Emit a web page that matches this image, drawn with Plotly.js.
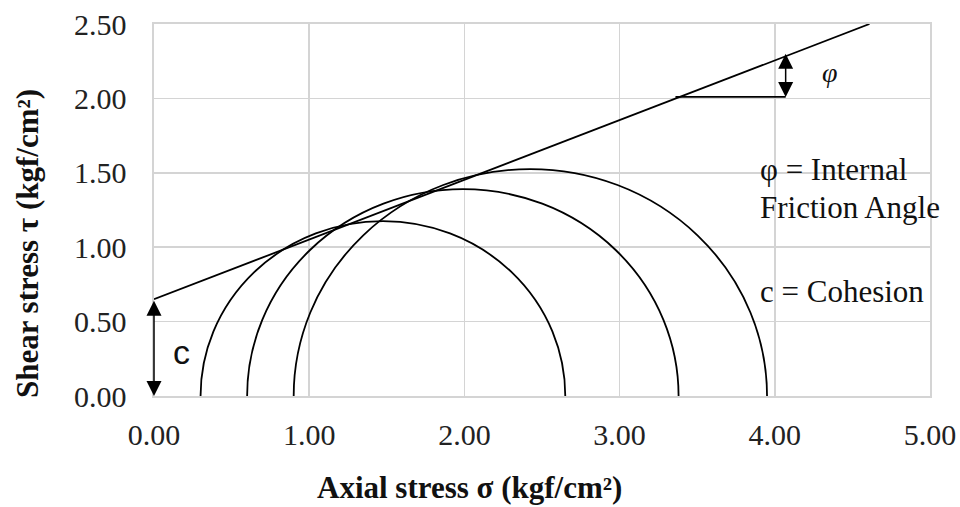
<!DOCTYPE html>
<html>
<head>
<meta charset="utf-8">
<script src="https://cdn.plot.ly/plotly-3.0.1.min.js"></script>
<style>
html,body{margin:0;padding:0;background:#fff;}
#chart{width:960px;height:507px;}
</style>
</head>
<body>
<div id="chart"></div>
<script>
// Mohr circles: minor and major principal stresses (kgf/cm2)
const sigma3 = [0.30, 0.60, 0.90];
const sigma1 = [2.65, 3.38, 3.95];
// Mohr-Coulomb failure envelope
const envelopeX = [0.00, 4.61];
const envelopeY = [0.65, 2.50];
// phi marker (horizontal reference + vertical arrow)
const phiLineX = [3.36, 4.07];
const phiLineY = [2.01, 2.01];
const phiArrowX = 4.07;
const phiArrowY = [2.01, 2.31];
// cohesion arrow
const cohesion = 0.65;
const xTicks = [0, 1, 2, 3, 4, 5];
const yTicks = [0, 0.5, 1.0, 1.5, 2.0, 2.5];

const serif = '"Liberation Serif", "Times New Roman", serif';
const black = '#000000';

const traces = [
  {x: envelopeX, y: envelopeY, mode: 'lines', line: {color: black, width: 1.8}, hoverinfo: 'skip'},
  {x: phiLineX, y: phiLineY, mode: 'lines', line: {color: black, width: 1.8}, hoverinfo: 'skip'}
];

const shapes = sigma3.map((s3, i) => {
  const r = (sigma1[i] - s3) / 2;
  return {type: 'circle', xref: 'x', yref: 'y', x0: s3, x1: sigma1[i], y0: -r, y1: r,
          line: {color: black, width: 1.8}, fillcolor: 'rgba(0,0,0,0)', layer: 'above'};
});

const annotations = [
  // cohesion double arrow
  {x: 0, y: 0, ax: 0, ay: cohesion, xref: 'x', yref: 'y', axref: 'x', ayref: 'y', text: '',
   showarrow: true, arrowside: 'end+start', arrowhead: 2, startarrowhead: 2,
   arrowsize: 2, startarrowsize: 2, arrowwidth: 1.5, arrowcolor: black},
  // phi double arrow
  {x: phiArrowX, y: phiArrowY[0], ax: phiArrowX, ay: phiArrowY[1], xref: 'x', yref: 'y', axref: 'x', ayref: 'y', text: '',
   showarrow: true, arrowside: 'end+start', arrowhead: 2, startarrowhead: 2,
   arrowsize: 2, startarrowsize: 2, arrowwidth: 1.5, arrowcolor: black},
  {x: 0.18, y: 0.296, xref: 'x', yref: 'y', text: 'c', showarrow: false,
   font: {family: '"Liberation Sans", Arial, sans-serif', size: 34, color: '#111'}},
  {x: 4.355, y: 2.177, xref: 'x', yref: 'y', text: '<i>φ</i>', showarrow: false,
   font: {family: serif, size: 28, color: '#111'}},
  {x: 3.89, y: 1.519, xref: 'x', yref: 'y', xanchor: 'left', text: 'φ = Internal', showarrow: false,
   font: {family: serif, size: 31, color: '#111'}},
  {x: 3.89, y: 1.270, xref: 'x', yref: 'y', xanchor: 'left', text: 'Friction Angle', showarrow: false,
   font: {family: serif, size: 31, color: '#111'}},
  {x: 3.89, y: 0.699, xref: 'x', yref: 'y', xanchor: 'left', text: 'c = Cohesion', showarrow: false,
   font: {family: serif, size: 31, color: '#111'}},
  // axis titles
  {x: 0.407, y: -0.247, xref: 'paper', yref: 'paper', xanchor: 'center', yanchor: 'middle',
   text: '<b>Axial stress σ (kgf/cm²)</b>', showarrow: false,
   font: {family: serif, size: 31, color: '#111'}},
  {x: -0.1637, y: 0.411, xref: 'paper', yref: 'paper', xanchor: 'center', yanchor: 'middle', textangle: -90,
   text: '<b>Shear stress τ (kgf/cm²)</b>', showarrow: false,
   font: {family: serif, size: 31, color: '#111'}}
];

const layout = {
  width: 960, height: 507,
  margin: {l: 154, r: 30, t: 24, b: 111},
  paper_bgcolor: '#ffffff', plot_bgcolor: '#ffffff',
  showlegend: false,
  xaxis: {range: [0, 5], tickvals: xTicks, ticktext: xTicks.map(v => v.toFixed(2)),
          showgrid: true, gridcolor: '#d4d4d4', gridwidth: 1.6, zeroline: false,
          showline: true, linecolor: '#d4d4d4', linewidth: 1.6, mirror: true,
          ticks: '', ticklabelstandoff: 11, fixedrange: true,
          tickfont: {family: serif, size: 30, color: '#222'}},
  yaxis: {range: [0, 2.5], tickvals: yTicks, ticktext: yTicks.map(v => v.toFixed(2)),
          showgrid: true, gridcolor: '#d4d4d4', gridwidth: 1.6, zeroline: false,
          showline: true, linecolor: '#d4d4d4', linewidth: 1.6, mirror: true,
          ticks: '', ticklabelstandoff: 20, fixedrange: true,
          tickfont: {family: serif, size: 30, color: '#222'}},
  shapes: shapes,
  annotations: annotations
};

Plotly.newPlot('chart', traces, layout, {staticPlot: true, displayModeBar: false});
</script>
</body>
</html>
